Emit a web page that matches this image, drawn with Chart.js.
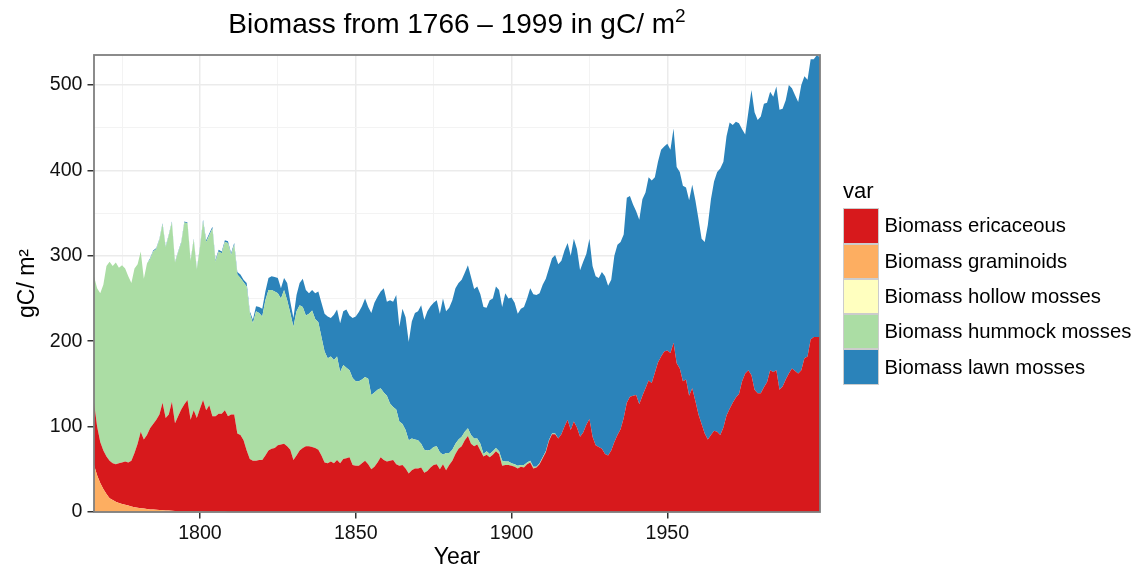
<!DOCTYPE html>
<html>
<head>
<meta charset="utf-8">
<script src="https://cdn.jsdelivr.net/npm/chart.js@4.4.1/dist/chart.umd.min.js"></script>
<style>
  html, body { margin: 0; padding: 0; background: #ffffff; }
  #wrap { position: relative; width: 1138px; height: 571px; overflow: hidden;
          font-family: "Liberation Sans", Arial, Helvetica, sans-serif; color: #000; }
  #c { position: absolute; left: 0; top: 0; }
  #title { position: absolute; left: 94px; width: 726px; top: 10px; text-align: center;
           font-size: 28px; line-height: 1; white-space: nowrap; }
  #title sup { font-size: 0.68em; vertical-align: 0; position: relative; top: -0.6em; }
  #legTitle { position: absolute; left: 843px; top: 180px; font-size: 22px; line-height: 1; }
  #legend { position: absolute; left: 843px; top: 208.3px; }
  .row { display: flex; align-items: center; height: 35.3px; }
  .key { width: 36px; height: 35.3px; box-sizing: border-box; border: 1.7px solid #cccccc; }
  .lab { margin-left: 5.5px; font-size: 20.3px; white-space: nowrap; }
</style>
</head>
<body>
<div id="wrap">
  <canvas id="c" width="1138" height="571"></canvas>
  <div id="title">Biomass from 1766 &ndash; 1999 in gC/ m<sup>2</sup></div>
  <div id="legTitle">var</div>
  <div id="legend"></div>
</div>
<script>
// ---------------- data ----------------
const firstYear = 1766;
const lastYear = 1999;
const years = [];
for (let y = firstYear; y <= lastYear; y++) years.push(y);

const graminoids = [
  55, 43, 34, 27, 21, 16, 14, 12, 10.5, 9.5,            // 1766
  8.5, 7.5, 6.5, 5.5, 5, 4.5, 4, 3.5, 3, 2.8,           // 1776
  2.5, 2.3, 2.1, 1.9, 1.7, 1.5, 1.3, 1.2, 1.1, 1,       // 1786
  0.9, 0.8, 0.7, 0.6, 0.5, 0.5, 0.4, 0.4, 0.3, 0.3,     // 1796
  0.2, 0.2, 0.2, 0.1, 0.1, 0.1, 0, 0, 0, 0,             // 1806
  0, 0, 0, 0, 0, 0, 0, 0, 0, 0,                         // 1816
  0, 0, 0, 0, 0, 0, 0, 0, 0, 0,                         // 1826
  0, 0, 0, 0, 0, 0, 0, 0, 0, 0,                         // 1836
  0, 0, 0, 0, 0, 0, 0, 0, 0, 0,                         // 1846
  0, 0, 0, 0, 0, 0, 0, 0, 0, 0,                         // 1856
  0, 0, 0, 0, 0, 0, 0, 0, 0, 0,                         // 1866
  0, 0, 0, 0, 0, 0, 0, 0, 0, 0,                         // 1876
  0, 0, 0, 0, 0, 0, 0, 0, 0, 0,                         // 1886
  0, 0, 0, 0, 0, 0, 0, 0, 0, 0,                         // 1896
  0, 0, 0, 0, 0, 0, 0, 0, 0, 0,                         // 1906
  0, 0, 0, 0, 0, 0, 0, 0, 0, 0,                         // 1916
  0, 0, 0, 0, 0, 0, 0, 0, 0, 0,                         // 1926
  0, 0, 0, 0, 0, 0, 0, 0, 0, 0,                         // 1936
  0, 0, 0, 0, 0, 0, 0, 0, 0, 0,                         // 1946
  0, 0, 0, 0, 0, 0, 0, 0, 0, 0,                         // 1956
  0, 0, 0, 0, 0, 0, 0, 0, 0, 0,                         // 1966
  0, 0, 0, 0, 0, 0, 0, 0, 0, 0,                         // 1976
  0, 0, 0, 0, 0, 0, 0, 0, 0, 0,                         // 1986
  0, 0, 0, 0                                            // 1996
];

const ericaceous = [
  73, 57, 48, 45, 44, 44, 43, 44, 46.5, 48.5,                        // 1766
  50.5, 50.5, 53.5, 63.5, 75, 89.5, 81, 86.5, 95, 100.2,             // 1776
  105.5, 111.7, 125.9, 108.1, 112.3, 127.5, 102.7, 110.8, 118.9, 125, // 1786
  130.1, 107.2, 118.3, 109.4, 120.5, 130.5, 118.6, 124.6, 111.7, 111.7, // 1796
  114.8, 114.8, 118.8, 111.9, 113.9, 113.9, 92, 90, 84, 72,          // 1806
  62, 60, 60, 61, 61, 66, 72, 74, 75, 78,                            // 1816
  79, 80, 77, 73, 61, 66, 72, 75, 77, 77,                            // 1826
  76, 75, 73, 66, 58, 57, 59, 57, 61, 57,                            // 1836
  62, 63, 64, 55, 54, 54, 57, 60, 56, 50,                            // 1846
  53, 58, 64, 61, 59, 60, 61, 56, 54, 55,                            // 1856
  51, 45, 49, 51, 51, 52, 46, 48, 52, 55,                            // 1866
  56, 50, 56, 49, 55, 60, 68, 74, 77, 84,                            // 1876
  89, 80, 77, 79, 72, 65, 67, 64, 67, 71,                            // 1886
  68, 54, 55, 55, 54, 53, 51, 53, 52, 56,                            // 1896
  58, 51, 52, 56, 63, 70, 83, 91, 91, 86,                            // 1906
  91, 100, 108, 96, 106, 99, 88, 93, 102, 109,                       // 1916
  88, 78, 76, 74, 68, 66, 72, 82, 90, 97,                            // 1926
  110, 128, 135, 136, 137, 126, 136, 145, 154, 151,                  // 1936
  163, 175, 182, 188, 189, 186, 198, 174, 168, 153,                  // 1946
  155, 136, 145, 130, 114, 103, 92, 85, 90, 95,                      // 1956
  94, 90, 99, 113, 121, 128, 134, 138, 153, 162,                     // 1966
  166, 160, 143, 139, 139, 146, 152, 166, 164, 166,                  // 1976
  143, 147, 155, 162, 168, 165, 162, 166, 180, 182,                  // 1986
  202, 205, 205, 205                                                 // 1996
];

const hollowMosses = [
  0, 0, 0, 0, 0, 0, 0, 0, 0, 0,   // 1766
  0, 0, 0, 0, 0, 0, 0, 0, 0, 0,   // 1776
  0, 0, 0, 0, 0, 0, 0, 0, 0, 0,   // 1786
  0, 0, 0, 0, 0, 0, 0, 0, 0, 0,   // 1796
  0, 0, 0, 0, 0, 0, 0, 0, 0, 0,   // 1806
  0, 0, 0, 0, 0, 0, 0, 0, 0, 0,   // 1816
  0, 0, 0, 0, 0, 0, 0, 0, 0, 0,   // 1826
  0, 0, 0, 0, 0, 0, 0, 0, 0, 0,   // 1836
  0, 0, 0, 0, 0, 0, 0, 0, 0, 0,   // 1846
  0, 0, 0, 0, 0, 0, 0, 0, 0, 0,   // 1856
  0, 0, 0, 0, 0, 0, 0, 0, 0, 0,   // 1866
  0, 0, 0, 0, 0, 0, 0, 0, 0, 0,   // 1876
  0, 0, 0, 0, 0, 0, 0, 0, 0, 0,   // 1886
  0, 0, 0, 0, 0, 0, 0, 0, 0, 0,   // 1896
  0, 0, 0, 0, 0, 0, 0, 0, 0, 0,   // 1906
  0, 0, 0, 0, 0, 0, 0, 0, 0, 0,   // 1916
  0, 0, 0, 0, 0, 0, 0, 0, 0, 0,   // 1926
  0, 0, 0, 0, 0, 0, 0, 0, 0, 0,   // 1936
  0, 0, 0, 0, 0, 0, 0, 0, 0, 0,   // 1946
  0, 0, 0, 0, 0, 0, 0, 0, 0, 0,   // 1956
  0, 0, 0, 0, 0, 0, 0, 0, 0, 0,   // 1966
  0, 0, 0, 0, 0, 0, 0, 0, 0, 0,   // 1976
  0, 0, 0, 0, 0, 0, 0, 0, 0, 0,   // 1986
  0, 0, 0, 0                      // 1996
];

const hummockMosses = [
  148, 162, 174, 194, 223, 233, 231, 236, 229, 231,   // 1766
  226, 218, 208, 216, 210, 211, 188, 201, 198, 202,   // 1776
  200, 205, 209, 200, 210, 210, 188, 192, 195, 213,   // 1786
  207, 186, 200, 174, 188, 209, 197, 199, 220, 181,   // 1796
  190, 188, 197, 203, 187, 199, 186, 184, 185, 192,   // 1806
  171, 161, 175, 172, 168, 182, 188, 186, 183, 178,   // 1816
  171, 180, 171, 160, 156, 169, 170, 165, 153, 155,   // 1826
  160, 151, 149, 139, 130, 123, 123, 121, 121, 107,   // 1836
  110, 106, 102, 102, 99, 99, 98, 98, 100, 87,        // 1846
  87, 85, 81, 79, 77, 67, 62, 64, 52, 48,             // 1856
  45, 39, 37, 34, 33, 28, 27, 24, 21, 21,             // 1866
  21, 20, 11, 20, 14, 13, 12, 11, 11, 10,             // 1876
  9, 10, 9, 7, 8, 3, 4, 4, 4, 4,                      // 1886
  3, 6, 4, 4, 3, 3, 3, 2, 3, 2,                       // 1896
  2, 2, 1, 1, 1, 1, 1, 1, 1, 0,                       // 1906
  0, 0, 0, 0, 0, 0, 0, 0, 0, 0,                       // 1916
  0, 0, 0, 0, 0, 0, 0, 0, 0, 0,                       // 1926
  0, 0, 0, 0, 0, 0, 0, 0, 0, 0,                       // 1936
  0, 0, 0, 0, 0, 0, 0, 0, 0, 0,                       // 1946
  0, 0, 0, 0, 0, 0, 0, 0, 0, 0,                       // 1956
  0, 0, 0, 0, 0, 0, 0, 0, 0, 0,                       // 1966
  0, 0, 0, 0, 0, 0, 0, 0, 0, 0,                       // 1976
  0, 0, 0, 0, 0, 0, 0, 0, 0, 0,                       // 1986
  0, 0, 0, 0                                          // 1996
];

const lawnMosses = [
  0, 0, 0, 0, 0, 0, 0, 0, 0, 0,                       // 1766
  0, 0, 0, 0, 0, 0, 0, 0, 1, 1,                       // 1776
  1, 1, 1, 1, 1, 1, 1, 1, 1, 1,                       // 1786
  1, 1, 1, 1, 1, 2, 2, 2, 2, 2,                       // 1796
  2, 2, 2, 2, 2, 2, 3, 4, 3, 4,                       // 1806
  2, 4, 6, 7, 9, 10, 14, 16, 17, 18,                  // 1816
  12, 14, 20, 13, 10, 19, 26, 33, 30, 24,             // 1826
  24, 30, 36, 40, 44, 49, 45, 53, 55, 57,             // 1836
  63, 68, 64, 70, 76, 81, 86, 92, 84, 96,             // 1846
  105, 109, 113, 122, 110, 121, 123, 134, 111, 135,   // 1856
  132, 115, 137, 148, 151, 162, 152, 163, 168, 169,   // 1866
  171, 162, 183, 166, 170, 175, 182, 183, 184, 186,   // 1876
  191, 185, 175, 178, 175, 172, 168, 180, 179, 189,   // 1886
  189, 180, 197, 191, 194, 189, 178, 183, 185, 192,   // 1896
  202, 202, 201, 199, 202, 202, 201, 205, 209, 204,   // 1906
  203, 206, 207, 204, 214, 209, 195, 200, 200, 211,   // 1916
  200, 198, 198, 207, 208, 199, 200, 218, 223, 219,   // 1926
  215, 240, 235, 224, 215, 216, 230, 229, 238, 237,   // 1936
  229, 235, 242, 240, 242, 238, 251, 230, 230, 229,   // 1946
  225, 229, 238, 235, 229, 217, 224, 251, 276, 292,   // 1956
  304, 312, 311, 327, 335, 325, 323, 317, 295, 280,   // 1966
  302, 334, 325, 320, 324, 332, 327, 326, 322, 332,   // 1976
  328, 325, 327, 338, 328, 323, 318, 334, 330, 324,   // 1986
  328, 325, 330, 327                                  // 1996
];

// axis breaks
const yMajorTicks = [0, 100, 200, 300, 400, 500];
const yMinorTicks = [50, 150, 250, 350, 450];
const xMajorTicks = [1800, 1850, 1900, 1950];
const xMinorTicks = [1775, 1825, 1875, 1925, 1975];
const yMax = 535;

// legend order (as in the reference) and stacking order (bottom to top)
const legendOrder = ['Biomass ericaceous', 'Biomass graminoids', 'Biomass hollow mosses',
                     'Biomass hummock mosses', 'Biomass lawn mosses'];
const seriesColors = {
  'Biomass ericaceous': '#D7191C',
  'Biomass graminoids': '#FDAE61',
  'Biomass hollow mosses': '#FFFFBF',
  'Biomass hummock mosses': '#ABDDA4',
  'Biomass lawn mosses': '#2B83BA'
};
const stackOrder = [
  ['Biomass graminoids', graminoids],
  ['Biomass ericaceous', ericaceous],
  ['Biomass hollow mosses', hollowMosses],
  ['Biomass hummock mosses', hummockMosses],
  ['Biomass lawn mosses', lawnMosses]
];

// ---------------- chart ----------------
const FONT = "'Liberation Sans', Arial, Helvetica, sans-serif";
Chart.defaults.font.family = FONT;

const datasets = stackOrder.map(([label, arr], i) => ({
  label,
  data: years.map((yr, k) => ({ x: yr, y: arr[k] })),
  backgroundColor: seriesColors[label],
  borderColor: seriesColors[label],
  borderWidth: 0,
  pointRadius: 0,
  pointHoverRadius: 0,
  tension: 0,
  fill: i === 0 ? 'origin' : '-1'
}));

const panelBorder = {
  id: 'panelBorder',
  afterDraw(chart) {
    const { ctx, chartArea: a } = chart;
    ctx.save();
    ctx.strokeStyle = '#7f7f7f';
    ctx.lineWidth = 1.8;
    ctx.strokeRect(a.left, a.top, a.right - a.left, a.bottom - a.top);
    ctx.restore();
  }
};

const isMajorY = v => yMajorTicks.includes(v);
const isMajorX = v => xMajorTicks.includes(v);

new Chart(document.getElementById('c'), {
  type: 'line',
  data: { datasets },
  plugins: [panelBorder],
  options: {
    responsive: false,
    animation: false,
    events: [],
    layout: { padding: { left: 0, right: 318, top: 55, bottom: 0 } },
    plugins: { legend: { display: false }, title: { display: false }, tooltip: { enabled: false } },
    scales: {
      x: {
        type: 'linear',
        min: firstYear,
        max: lastYear,
        afterBuildTicks: s => { s.ticks = xMinorTicks.concat(xMajorTicks).sort((a, b) => a - b).map(v => ({ value: v })); },
        afterFit: s => { s.height = 59; },
        ticks: {
          autoSkip: false, maxRotation: 0, padding: 3, color: '#111111',
          font: { size: 19.6 },
          callback: v => (isMajorX(v) ? String(v) : '')
        },
        grid: {
          color: c => (c.tick && isMajorX(c.tick.value) ? '#ebebeb' : '#f3f3f3'),
          lineWidth: c => (c.tick && isMajorX(c.tick.value) ? 1.5 : 1),
          tickColor: c => (c.tick && isMajorX(c.tick.value) ? '#333333' : 'rgba(0,0,0,0)'),
          tickWidth: 1.5,
          tickLength: 6.5
        },
        border: { display: false },
        title: { display: true, text: 'Year', color: '#000', font: { size: 23 }, padding: { top: 0, bottom: 0 } }
      },
      y: {
        type: 'linear',
        stacked: true,
        min: 0,
        max: yMax,
        afterBuildTicks: s => { s.ticks = yMajorTicks.concat(yMinorTicks).sort((a, b) => a - b).map(v => ({ value: v })); },
        afterFit: s => { s.width = 94; },
        ticks: {
          autoSkip: false, padding: 5, color: '#111111',
          font: { size: 19.6 },
          callback: v => (isMajorY(v) ? String(v) : '')
        },
        grid: {
          color: c => (c.tick && isMajorY(c.tick.value) ? '#ebebeb' : '#f3f3f3'),
          lineWidth: c => (c.tick && isMajorY(c.tick.value) ? 1.5 : 1),
          tickColor: c => (c.tick && isMajorY(c.tick.value) ? '#333333' : 'rgba(0,0,0,0)'),
          tickWidth: 1.5,
          tickLength: 6.5
        },
        border: { display: false },
        title: { display: true, text: 'gC/ m²', color: '#000', font: { size: 23 }, padding: { top: 14, bottom: 0 } }
      }
    }
  }
});

// ---------------- legend (HTML, real text) ----------------
const leg = document.getElementById('legend');
legendOrder.forEach(name => {
  const row = document.createElement('div');
  row.className = 'row';
  const key = document.createElement('div');
  key.className = 'key';
  key.style.background = seriesColors[name];
  const lab = document.createElement('div');
  lab.className = 'lab';
  lab.textContent = name;
  row.appendChild(key);
  row.appendChild(lab);
  leg.appendChild(row);
});
</script>
</body>
</html>
